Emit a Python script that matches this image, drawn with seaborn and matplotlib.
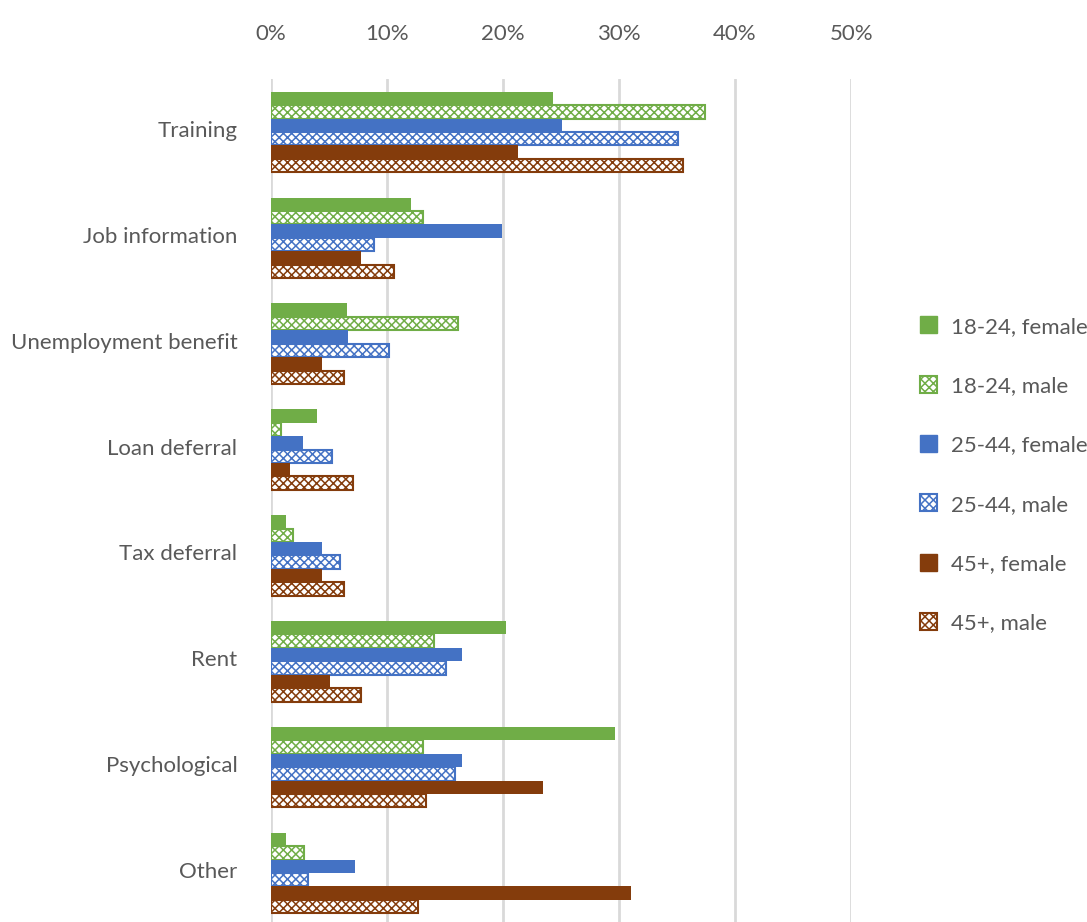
import matplotlib
matplotlib.use("Agg")
import matplotlib.pyplot as plt
import matplotlib.transforms as mtransforms
import seaborn as sns
import pandas as pd
from matplotlib.ticker import PercentFormatter
from matplotlib.patches import Patch

categories = ["Training", "Job information", "Unemployment benefit", "Loan deferral",
              "Tax deferral", "Rent", "Psychological", "Other"]
series = ["18-24, female", "18-24, male", "25-44, female", "25-44, male", "45+, female", "45+, male"]
f18 = [24.3, 12.1, 6.6, 4.0, 1.3, 20.3, 29.7, 1.3]
m18 = [37.4, 13.1, 16.1, 0.9, 1.9, 14.1, 13.1, 2.9]
f25 = [25.1, 19.9, 6.7, 2.8, 4.4, 16.5, 16.5, 7.3]
m25 = [35.1, 8.9, 10.2, 5.3, 6.0, 15.1, 15.9, 3.2]
f45 = [21.3, 7.8, 4.4, 1.7, 4.4, 5.1, 23.5, 31.0]
m45 = [35.5, 10.6, 6.3, 7.1, 6.3, 7.8, 13.4, 12.7]
values = [f18, m18, f25, m25, f45, m45]
colors = ["#70ad47", "#70ad47", "#4472c4", "#4472c4", "#843c0c", "#843c0c"]
hatched = [False, True, False, True, False, True]

rows = []
for s, vals in zip(series, values):
    for c, v in zip(categories, vals):
        rows.append({"category": c, "series": s, "value": v / 100})
df = pd.DataFrame(rows)

sns.set_theme(style="white")
plt.rcParams["font.family"] = ["Lato", "DejaVu Sans"]
plt.rcParams["hatch.linewidth"] = 1.1

fig = plt.figure(figsize=(10.87, 9.22), dpi=100)
ax = fig.add_axes([0.249, -4 / 922, 0.534, 1 - 79 / 922 + 4 / 922])
sns.barplot(data=df, y="category", x="value", hue="series", order=categories,
            hue_order=series, palette=colors, orient="h", width=0.76, gap=0,
            ax=ax, legend=False, saturation=1)

for cont, col, h in zip(ax.containers, colors, hatched):
    for p in cont:
        if h:
            p.set_facecolor("white")
            p.set_edgecolor(col)
            p.set_hatch("xxxx")
            p.set_linewidth(1.5)
        else:
            p.set_facecolor(col)
            p.set_edgecolor(col)
            p.set_linewidth(0)

ax.set_xlim(0, 0.5)
ax.xaxis.set_major_formatter(PercentFormatter(1.0, decimals=0))
ax.set_xticks([0, 0.1, 0.2, 0.3, 0.4, 0.5])
ax.xaxis.tick_top()
ax.tick_params(axis="x", length=0, labelsize=16, labelcolor="#595959", pad=25)
ax.tick_params(axis="y", length=0, labelsize=16, labelcolor="#595959", pad=24)
ax.set_xlabel("")
ax.set_ylabel("")
ax.grid(axis="x", color="#d9d9d9", linewidth=2)
ax.set_axisbelow(True)
for s in ax.spines.values():
    s.set_visible(False)

shift = mtransforms.ScaledTranslation(0, 3 / 100, fig.dpi_scale_trans)
for lbl in ax.get_yticklabels():
    lbl.set_transform(lbl.get_transform() + shift)

handles = []
for s, col, h in zip(series, colors, hatched):
    if h:
        handles.append(Patch(facecolor="white", edgecolor=col, hatch="xxxx", linewidth=1.5, label=s))
    else:
        handles.append(Patch(facecolor=col, edgecolor=col, label=s))
leg = fig.legend(handles=handles, loc="center left", bbox_to_anchor=(0.846, 0.485),
                 frameon=False, fontsize=16, labelspacing=1.76, handlelength=0.8,
                 handleheight=0.8, handletextpad=0.6, borderpad=0, borderaxespad=0)
for t in leg.get_texts():
    t.set_color("#595959")

fig.savefig("out.png", dpi=100)
